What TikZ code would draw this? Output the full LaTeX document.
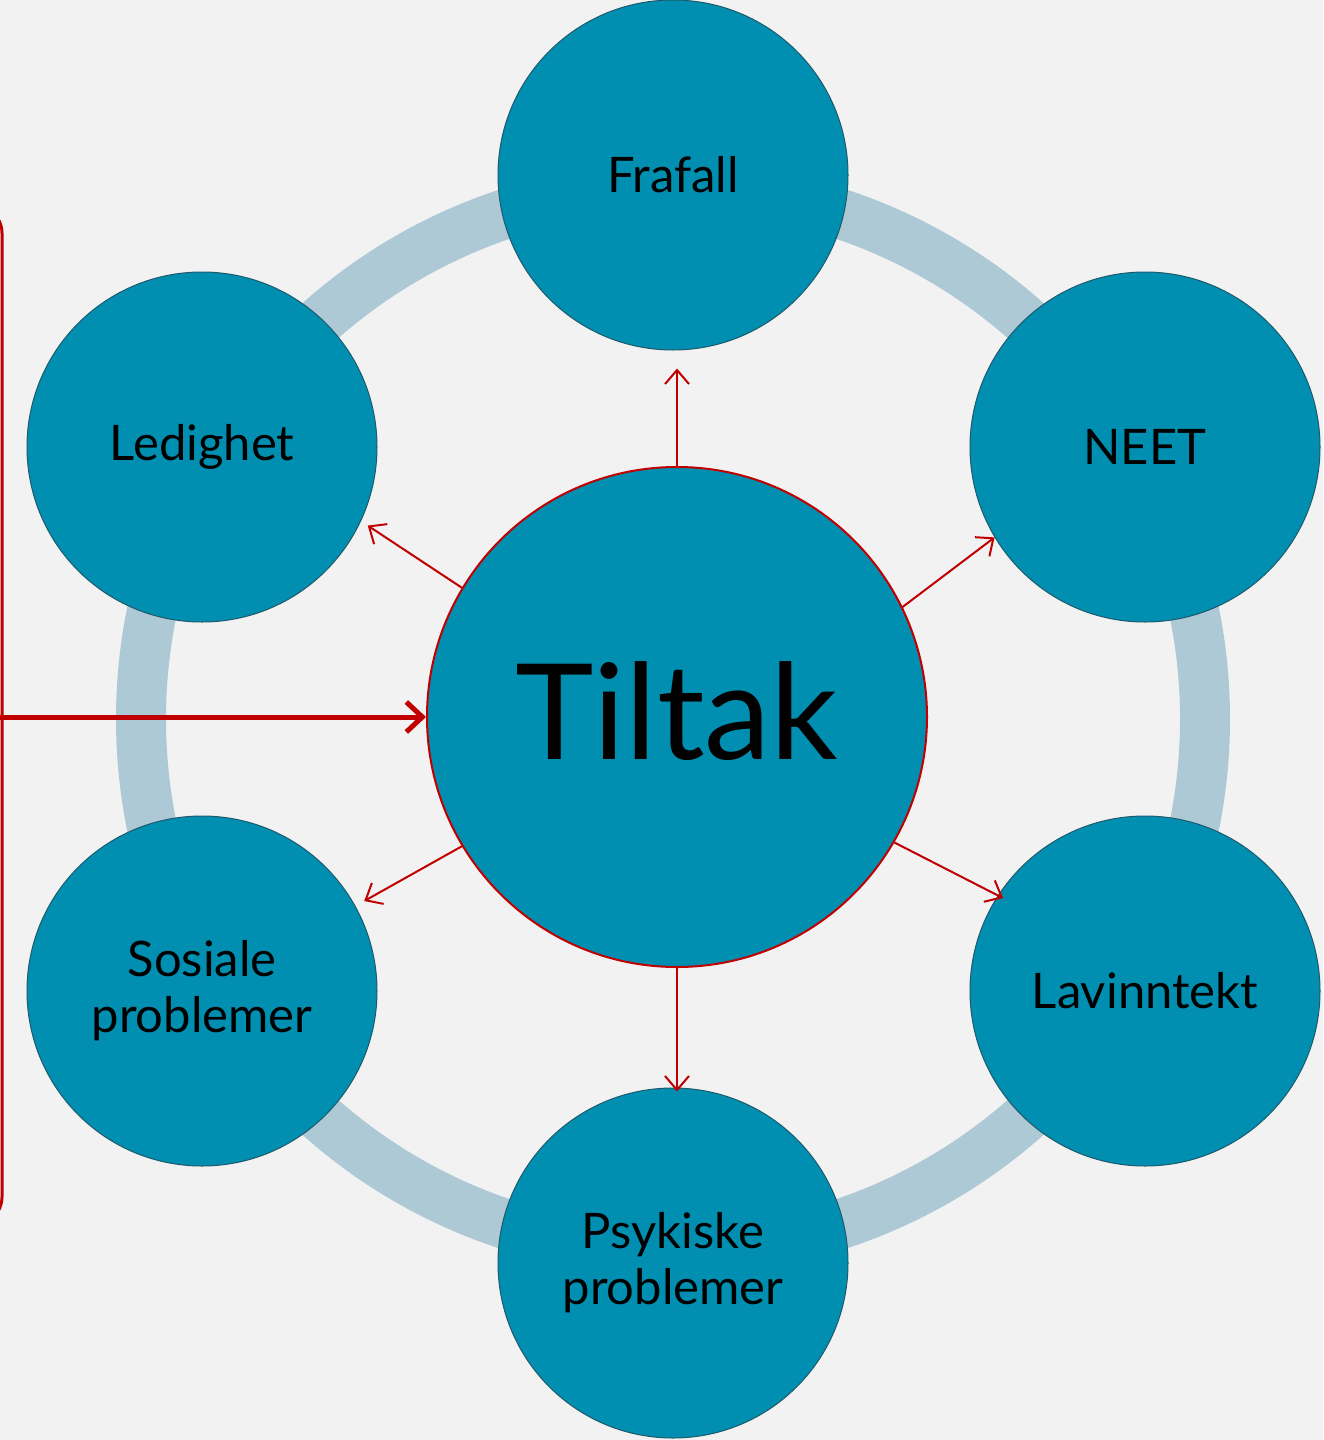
\documentclass[tikz,border=0pt]{standalone}
\usepackage{fontspec}
\setmainfont{Lato}
\usetikzlibrary{arrows.meta}

\definecolor{bgray}{HTML}{F2F2F2}
\definecolor{ringblue}{HTML}{AEC9D6}
\definecolor{teal}{HTML}{008FB0}
\definecolor{darkteal}{HTML}{1E5A6B}
\definecolor{tred}{HTML}{C00000}

\tikzset{
  outcome/.style={circle, fill=teal, draw=darkteal, line width=1pt,
    minimum size=350pt, inner sep=0pt, align=center,
    font=\fontsize{49}{56}\selectfont},
  link/.style={tred, line width=2pt, -{Straight Barb[length=14pt,width=24pt]}}
}

\begin{document}
\begin{tikzpicture}[x=1pt,y=-1pt]
\fill[bgray] (0,0) rectangle (1323,1440);
\useasboundingbox (0,0) rectangle (1323,1440);
% ring behind the circles
\draw[ringblue, line width=50pt] (673,719) circle (532pt);
% left box
\draw[tred, line width=3pt, rounded corners=28pt] (-60,205) rectangle (2,1225);
% outcomes
\node[outcome] (frafall) at (673,175) {Frafall};
\node[outcome] (neet) at (1145,447) {NEET};
\node[outcome] (lavinntekt) at (1145,991) {Lavinntekt};
\node[outcome] (psykiske) at (673,1263) {Psykiske\\problemer};
\node[outcome] (sosiale) at (202,991) {Sosiale\\problemer};
\node[outcome] (ledighet) at (202,447) {Ledighet};
% centre
\node[circle, fill=teal, draw=tred, line width=2pt, minimum size=500pt,
  inner sep=0pt, font=\fontsize{133}{140}\selectfont] (tiltak) at (677,717) {\raisebox{13pt}{Tiltak}};
\coordinate (inn) at (0,717);
% arrows
\draw[link, shorten >=18pt] (tiltak.north) -- (tiltak.north |- frafall.south);
\draw[link] (tiltak.26) -- (neet.211);
\draw[link, shorten >=-6pt] (tiltak.330) -- (lavinntekt.147);
\draw[link, shorten >=-4pt] (tiltak.south) -- (tiltak.south |- psykiske.north);
\draw[link, shorten >=10pt] (tiltak.211) -- (sosiale.29);
\draw[link, shorten >=8pt] (tiltak.149) -- (ledighet.335);
\draw[tred, line width=5pt, -{Straight Barb[length=16pt,width=30pt]}] (inn) -- (tiltak.west);
\end{tikzpicture}
\end{document}
